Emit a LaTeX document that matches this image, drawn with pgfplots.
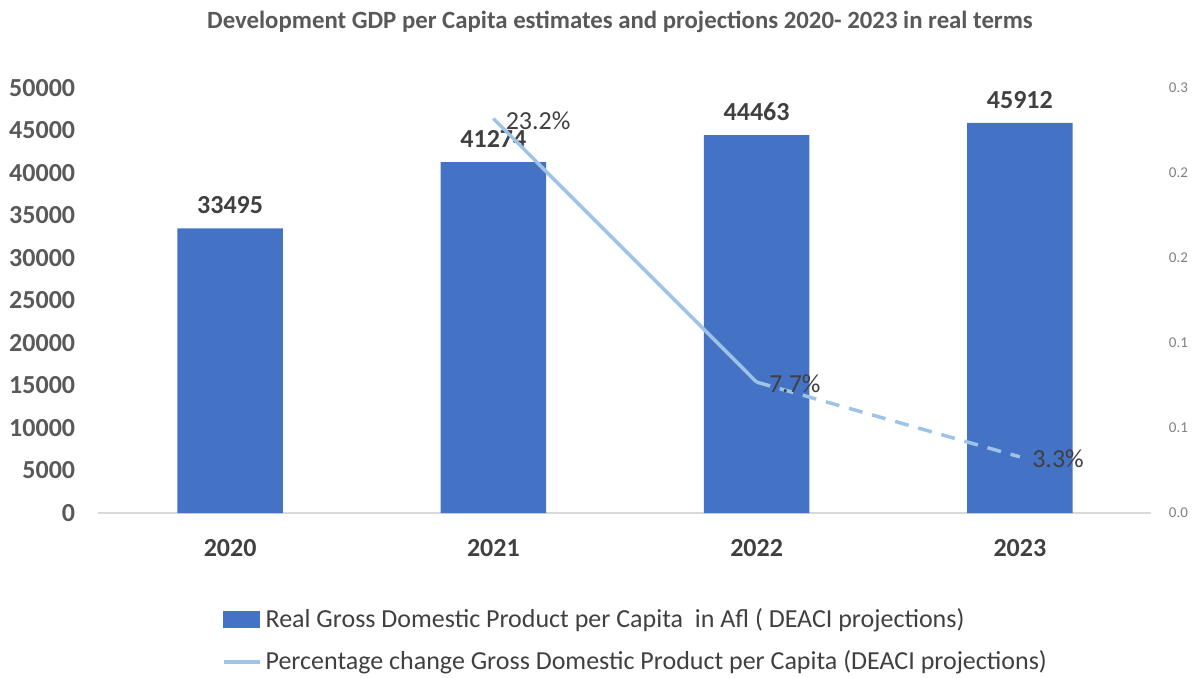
\documentclass[border=0pt]{standalone}
\usepackage{fontspec}
\setmainfont{Carlito}
\usepackage{pgfplots}
\pgfplotsset{compat=1.18}
\definecolor{barblue}{HTML}{4472C4}
\definecolor{lineblue}{HTML}{9DC3E6}
\definecolor{txt}{HTML}{404040}
\definecolor{txtg}{HTML}{595959}
\definecolor{gray7f}{HTML}{7F7F7F}
\definecolor{axg}{HTML}{D9D9D9}
\begin{document}
\begin{tikzpicture}
\path[use as bounding box] (-49.25pt,-82pt) rectangle (548.25pt,256.5pt);
\begin{axis}[
  at={(0,0)}, anchor=south west,
  scale only axis, width=526.5pt, height=212.5pt,
  xmin=-0.5, xmax=3.5, ymin=0, ymax=50000,
  xtick={0,1,2,3}, xticklabels={2020,2021,2022,2023},
  ytick={0,5000,...,50000},
  scaled y ticks=false,
  axis x line*=bottom, axis y line*=left,
  y axis line style={draw=none},
  x axis line style={axg, line width=0.75pt, -},
  major tick length=0,
  /pgf/number format/1000 sep={},
  /pgf/number format/assume math mode=true,
  yticklabel style={font=\bfseries\fontsize{13}{13}\selectfont, text=txtg, inner sep=0, anchor=east, xshift=-11.5pt, /pgf/number format/fixed},
  xticklabel style={font=\bfseries\fontsize{13}{13}\selectfont, text=txt, inner sep=0, anchor=north, yshift=-13pt},
]
\addplot[ybar, bar width=0.4, fill=barblue, draw=none,
  nodes near coords,
  nodes near coords style={font=\bfseries\fontsize{13}{13}\selectfont, text=txt, inner sep=0, anchor=south, yshift=7pt}]
  coordinates {(0,33495) (1,41274) (2,44463) (3,45912)};
\end{axis}
\begin{axis}[
  at={(0,0)}, anchor=south west,
  scale only axis, width=526.5pt, height=212.5pt,
  xmin=-0.5, xmax=3.5, ymin=0, ymax=0.25,
  axis x line=none, axis y line*=right,
  y axis line style={draw=none},
  major tick length=0,
  ytick={0,0.05,0.1,0.15,0.2,0.25},
  yticklabels={0.0,0.1,0.1,0.2,0.2,0.3},
  yticklabel style={font=\fontsize{7.5}{8}\selectfont, text=gray7f, inner sep=0, anchor=west, xshift=8.5pt},
  legend style={at={(0.117,-0.215)}, anchor=north west, draw=none, fill=none,
    font=\fontsize{13}{13}\selectfont, text=txt, row sep=6pt, inner sep=0pt},
  legend cell align=left,
]
\addlegendimage{legend image code/.code={\fill[barblue] (0pt,-4pt) rectangle (18pt,4pt);}}
\addlegendentry{Real Gross Domestic Product per Capita~ in Afl ( DEACI projections)}
\addplot[lineblue, line width=1.75pt, line join=round,
  legend image code/.code={\draw[lineblue, line width=1.75pt] (0pt,0pt) -- (18pt,0pt);}]
  coordinates {(1,0.232) (2,0.077)};
\addlegendentry{Percentage change Gross Domestic Product per Capita (DEACI projections)}
\addplot[lineblue, line width=1.75pt, dash pattern=on 7pt off 5pt, forget plot]
  coordinates {(2,0.077) (3,0.033)};
\addplot[draw=none, forget plot, nodes near coords, point meta=explicit symbolic,
  nodes near coords style={font=\fontsize{13}{13}\selectfont, text=txt, inner sep=0, anchor=west, xshift=6pt, yshift=-1pt}]
  coordinates {(1,0.232) [23.2\%] (2,0.077) [7.7\%] (3,0.033) [3.3\%]};
\end{axis}
\node[font=\bfseries\fontsize{12.4}{13}\selectfont, text=txtg] at (260.75pt,245.5pt) {Development GDP per Capita estimates and projections 2020- 2023 in real terms};
\end{tikzpicture}
\end{document}
